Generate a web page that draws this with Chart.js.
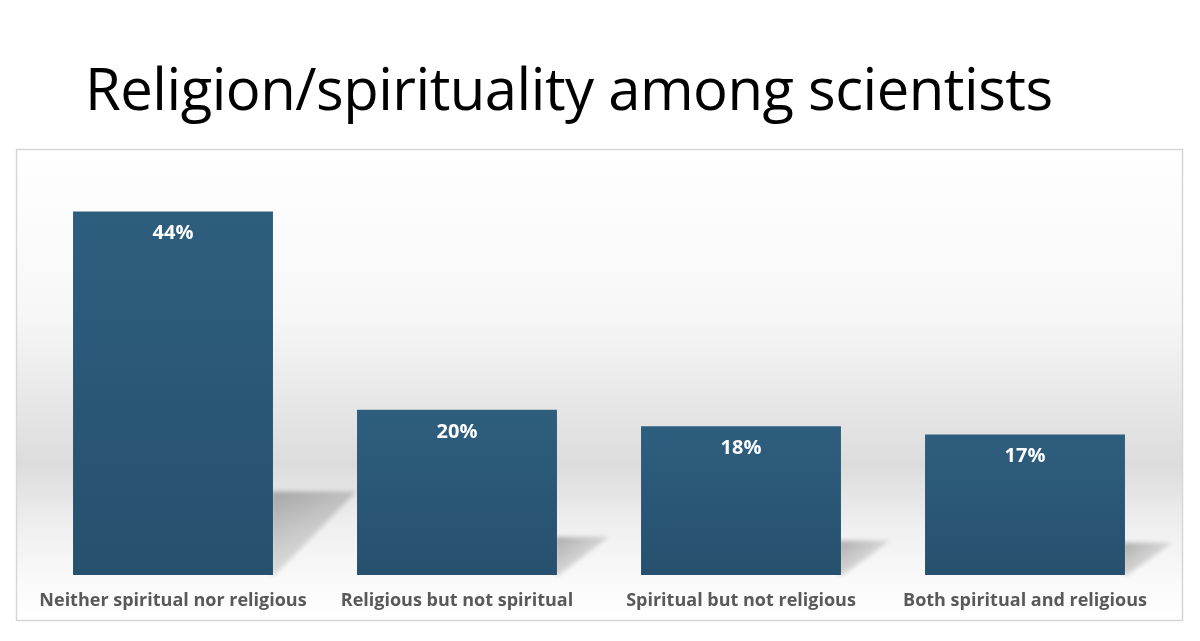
<!DOCTYPE html>
<html>
<head>
<meta charset="utf-8">
<script src="https://cdn.jsdelivr.net/npm/chart.js@4/dist/chart.umd.min.js"></script>
<style>
    html, body { margin: 0; padding: 0; background: #fff; }
    #wrap { position: relative; width: 1200px; height: 641px; }
    #title {
        position: absolute; left: 85px; top: 48px; margin: 0;
        font-family: "Open Sans", sans-serif; font-weight: 400;
        font-size: 58px; color: #000; white-space: nowrap; letter-spacing: -0.5px;
    }
    canvas { position: absolute; left: 0; top: 0; }
</style>
</head>
<body>
<div id="wrap">
    <canvas id="chart" width="1200" height="641"></canvas>
    <h1 id="title">Religion/spirituality among scientists</h1>
</div>
<script>
// Data
const categories = [
    "Neither spiritual nor religious",
    "Religious but not spiritual",
    "Spiritual but not religious",
    "Both spiritual and religious"
];
const shares = [44, 20, 18, 17];
const valueLabels = ["44%", "20%", "18%", "17%"];

// --- Frame + background band ---
const backdrop = {
    id: "backdrop",
    beforeDraw(chart) {
        const ctx = chart.ctx;
        const x0 = 16, y0 = 149, x1 = 1182, y1 = 620;
        const g = ctx.createLinearGradient(0, y0, 0, y1);
        g.addColorStop(0, "#ffffff");
        g.addColorStop(0.35, "#f7f7f7");
        g.addColorStop(0.67, "#dcdcdc");
        g.addColorStop(0.8, "#efefef");
        g.addColorStop(0.92, "#fafafa");
        g.addColorStop(1, "#ffffff");
        ctx.save();
        ctx.fillStyle = g;
        ctx.fillRect(x0, y0, x1 - x0, y1 - y0);
        ctx.strokeStyle = "#d6d6d6";
        ctx.lineWidth = 1.5;
        ctx.strokeRect(x0 + 0.5, y0 + 0.5, x1 - x0, y1 - y0);
        ctx.restore();
    }
};

// --- Floor shadows behind bars ---
const floorShadow = {
    id: "floorShadow",
    beforeDatasetsDraw(chart) {
        const ctx = chart.ctx;
        const meta = chart.getDatasetMeta(0);
        ctx.save();
        ctx.filter = "blur(2px)";
        meta.data.forEach(bar => {
            const right = bar.x + bar.width / 2;
            const h = bar.base - bar.y;
            const top = bar.base - h * 0.23;
            const dx = h * 0.16 + 25;
            const g = ctx.createLinearGradient(right, top, right + dx * 0.6, bar.base);
            g.addColorStop(0, "rgba(90,90,90,0.45)");
            g.addColorStop(1, "rgba(120,120,120,0.12)");
            ctx.fillStyle = g;
            ctx.beginPath();
            ctx.moveTo(right - 2, top);
            ctx.lineTo(right + dx, top);
            ctx.lineTo(right + 2, bar.base);
            ctx.lineTo(right - 2, bar.base);
            ctx.closePath();
            ctx.fill();
        });
        ctx.restore();
    }
};

// --- Value labels inside bars ---
const barLabels = {
    id: "barLabels",
    afterDatasetsDraw(chart) {
        const ctx = chart.ctx;
        const meta = chart.getDatasetMeta(0);
        ctx.save();
        ctx.fillStyle = "#ffffff";
        ctx.font = "bold 20px 'Open Sans', sans-serif";
        ctx.textAlign = "center";
        ctx.textBaseline = "middle";
        meta.data.forEach((bar, i) => {
            ctx.fillText(valueLabels[i], bar.x, bar.y + 22);
        });
        ctx.restore();
    }
};

function barGradient(context) {
    const chart = context.chart;
    if (!chart.chartArea || context.dataIndex === undefined) return "#2b5a79";
    const y = chart.scales.y;
    const top = y.getPixelForValue(shares[context.dataIndex]);
    const bottom = y.getPixelForValue(0);
    const g = chart.ctx.createLinearGradient(0, top, 0, bottom);
    g.addColorStop(0, "#2e5e7e");
    g.addColorStop(1, "#26506e");
    return g;
}

new Chart(document.getElementById("chart"), {
    type: "bar",
    data: {
        labels: categories,
        datasets: [{
            data: shares,
            backgroundColor: barGradient,
            borderWidth: 0,
            categoryPercentage: 1,
            barPercentage: 0.704
        }]
    },
    options: {
        responsive: false,
        animation: false,
        layout: { padding: { left: 31, right: 33, top: 162, bottom: 21 } },
        plugins: {
            legend: { display: false },
            tooltip: { enabled: false }
        },
        scales: {
            x: {
                grid: { display: false, drawTicks: false },
                border: { display: false },
                ticks: {
                    color: "#595959",
                    font: { family: "'Open Sans', sans-serif", size: 18, weight: "bold" },
                    padding: 15,
                    maxRotation: 0,
                    autoSkip: false
                },
                afterFit(scale) { scale.height = 45; }
            },
            y: {
                display: false,
                min: 0,
                max: 50
            }
        }
    },
    plugins: [backdrop, floorShadow, barLabels]
});
</script>
</body>
</html>
